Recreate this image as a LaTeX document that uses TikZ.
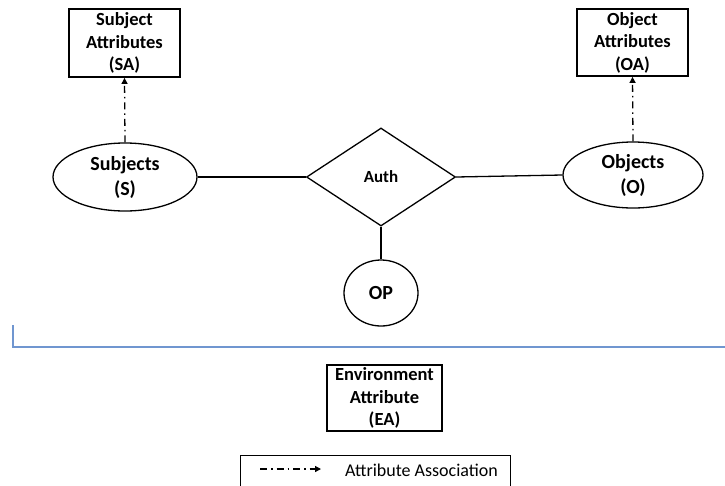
\documentclass[tikz,border=0pt]{standalone}
\usepackage{fontspec}
\setmainfont{Carlito}
\usetikzlibrary{shapes.geometric,arrows.meta}
\definecolor{rulerblue}{RGB}{112,150,208}
\tikzset{
  attrbox/.style={draw, line width=1.8pt, rectangle, align=center, inner sep=0pt,
    font=\bfseries\fontsize{18.5}{22.5}\selectfont},
  entity/.style={draw, line width=1.3pt, ellipse, align=center, inner sep=0pt,
    font=\bfseries\fontsize{20}{25}\selectfont},
  relation/.style={draw, line width=1.3pt, diamond, inner sep=0pt,
    font=\bfseries\fontsize{17}{22}\selectfont},
  link/.style={line width=1.3pt},
  assoc/.style={line width=1.3pt, dash pattern=on 7pt off 4pt on 1.5pt off 4pt,
    -{Triangle[length=6pt,width=6pt]}},
}
\begin{document}
\begin{tikzpicture}[x=1pt,y=-1pt]
  \useasboundingbox (0,0) rectangle (725,485);
  \clip (0,0) rectangle (725,485);

  % attribute boxes
  \node[attrbox, minimum width=111pt, minimum height=68pt] (sa) at (124.5,43) {Subject\\Attributes\\(SA)};
  \node[attrbox, minimum width=111pt, minimum height=67pt] (oa) at (632.5,42.5) {Object\\Attributes\\(OA)};

  % entities and relation
  \node[entity, minimum width=144pt, minimum height=68pt] (s) at (125,177) {Subjects\\(S)};
  \node[entity, minimum width=140pt, minimum height=66pt] (o) at (633,175) {Objects\\(O)};
  \node[relation, minimum width=149pt, minimum height=98pt] (auth) at (381,177) {Auth};
  \node[entity, minimum width=74pt, minimum height=66pt] (op) at (381,293) {OP};

  % connectors
  \draw[link] (s.east) -- (auth.west);
  \draw[link] (auth.east) -- (o.west);
  \draw[link] (auth.south) -- (op.north);
  \draw[assoc] (s.north) -- (sa.south);
  \draw[assoc] (o.north) -- (oa.south);

  % separator
  \coordinate (sepA) at (13,325);
  \coordinate (sepB) at (13,347);
  \coordinate (sepC) at (725,347);
  \draw[rulerblue, line width=1.3pt] (sepA) -- (sepB) -- (sepC);

  % environment attribute
  \node[attrbox, minimum width=115pt, minimum height=66pt] (ea) at (384.5,398) {Environment\\Attribute\\(EA)};

  % legend
  \node[draw, line width=0.9pt, anchor=north west, minimum width=270pt, minimum height=50pt, inner sep=0pt] (legend) at (240,455) {};
  \coordinate (legA) at (260,469);
  \coordinate (legB) at (321,469);
  \draw[assoc] (legA) -- (legB);
  \node[anchor=west, inner sep=0pt, font=\fontsize{18}{22}\selectfont] (legtext) at (345,470) {Attribute Association};
\end{tikzpicture}
\end{document}
